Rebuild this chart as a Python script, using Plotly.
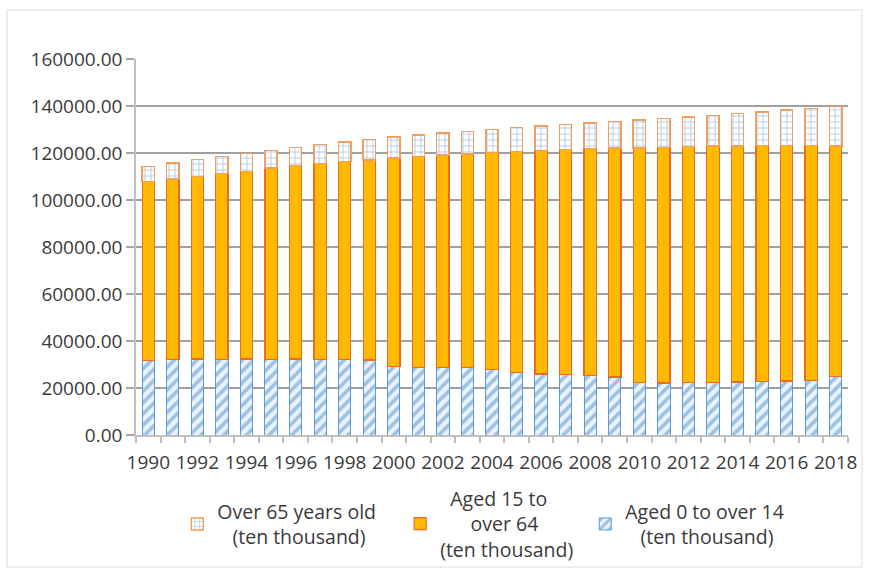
import plotly.graph_objects as go

years = list(range(1990, 2019))
age_0_14 = [31659, 32095, 32339, 32177, 32360, 32218, 32311, 32093, 32064, 31950,
            29012, 28716, 28774, 28559, 27947, 26504, 25961, 25660, 25166, 24659,
            22259, 22164, 22287, 22329, 22558, 22715, 23008, 23348, 24860]
age_15_64 = [76306, 76791, 77614, 79051, 79868, 81393, 82245, 83448, 84338, 85157,
             88910, 89849, 90302, 90976, 92184, 94197, 95068, 95833, 96680, 97484,
             99938, 100283, 100403, 100582, 100469, 100361, 100260, 99829, 98200]
age_65 = [6368, 6938, 7218, 7289, 7622, 7510, 7833, 8085, 8359, 8679,
          8821, 9062, 9377, 9692, 9857, 10055, 10419, 10636, 10956, 11307,
          11894, 12288, 12714, 13161, 13755, 14386, 15003, 15831, 16658]

NB = "\u00a0"
name_0_14 = "Aged 0 to over 14<br>" + NB * 3 + "(ten thousand)"
name_15_64 = NB * 2 + "Aged 15 to<br>" + NB * 6 + "over 64<br>(ten thousand)"
name_65 = "Over 65 years old<br>" + NB * 3 + "(ten thousand)"

tick_years = list(range(1990, 2019, 2))

fig = go.Figure()
fig.add_trace(go.Bar(
    x=years, y=age_0_14, name=name_0_14, width=0.5, legend="legend3",
    marker=dict(color="#EAF3FB", line=dict(color="#5B9BD5", width=1),
                pattern=dict(shape="/", fgcolor="#4F8FCC", bgcolor="#EAF3FB",
                             size=8, solidity=0.45)),
))
fig.add_trace(go.Bar(
    x=years, y=age_15_64, name=name_15_64, width=0.5, legend="legend2",
    marker=dict(color="#FFB900", line=dict(color="#ED6A1F", width=1.2)),
))
fig.add_trace(go.Bar(
    x=years, y=age_65, name=name_65, width=0.5, legend="legend",
    marker=dict(color="#FFFFFF", line=dict(color="#EFA060", width=1.4),
                pattern=dict(shape="+", fgcolor="#6A9AD0", bgcolor="#FFFFFF",
                             size=6, solidity=0.3)),
))

font_family = "Open Sans, Noto Sans, sans-serif"
leg_font = dict(size=19.5, color="#3A3A3A", family=font_family)
leg_common = dict(yanchor="middle", xanchor="left", valign="middle",
                  font=leg_font, bgcolor="rgba(0,0,0,0)", itemwidth=30)

fig.update_layout(
    barmode="stack",
    width=869, height=572,
    margin=dict(l=136, r=21, t=59, b=137, autoexpand=False),
    paper_bgcolor="white", plot_bgcolor="white",
    font=dict(family=font_family, size=19, color="#3A3A3A"),
    showlegend=True,
    legend=dict(x=0.058, y=-0.237, **leg_common),
    legend2=dict(x=0.371, y=-0.237, **leg_common),
    legend3=dict(x=0.631, y=-0.237, **leg_common),
    xaxis=dict(range=[1989.5, 2018.5], tickmode="array", tickvals=tick_years,
               ticktext=[str(y) for y in tick_years], ticks="", showgrid=False,
               showline=True, linecolor="#BFBFBF", linewidth=1.5, zeroline=False,
               ticklabelstandoff=9, automargin=False,
               minor=dict(ticks="outside", tick0=1989.5, dtick=1, ticklen=6,
                          tickcolor="#BFBFBF", tickwidth=1.5, showgrid=False)),
    yaxis=dict(range=[0, 160000], dtick=20000, tickformat=".2f", ticks="outside",
               ticklen=8, tickcolor="#A6A6A6", tickwidth=1.5, automargin=False,
               showgrid=True, gridcolor="#A0A0A0", gridwidth=1.5,
               showline=True, linecolor="#BFBFBF", linewidth=1.5, zeroline=False),
    shapes=[dict(type="rect", xref="paper", yref="paper",
                 x0=-0.181, x1=1.0197, y0=-0.351, y1=1.13,
                 line=dict(color="#E8E8E8", width=1.5), fillcolor="rgba(0,0,0,0)",
                 layer="below")],
)

fig.write_html("out.html")
